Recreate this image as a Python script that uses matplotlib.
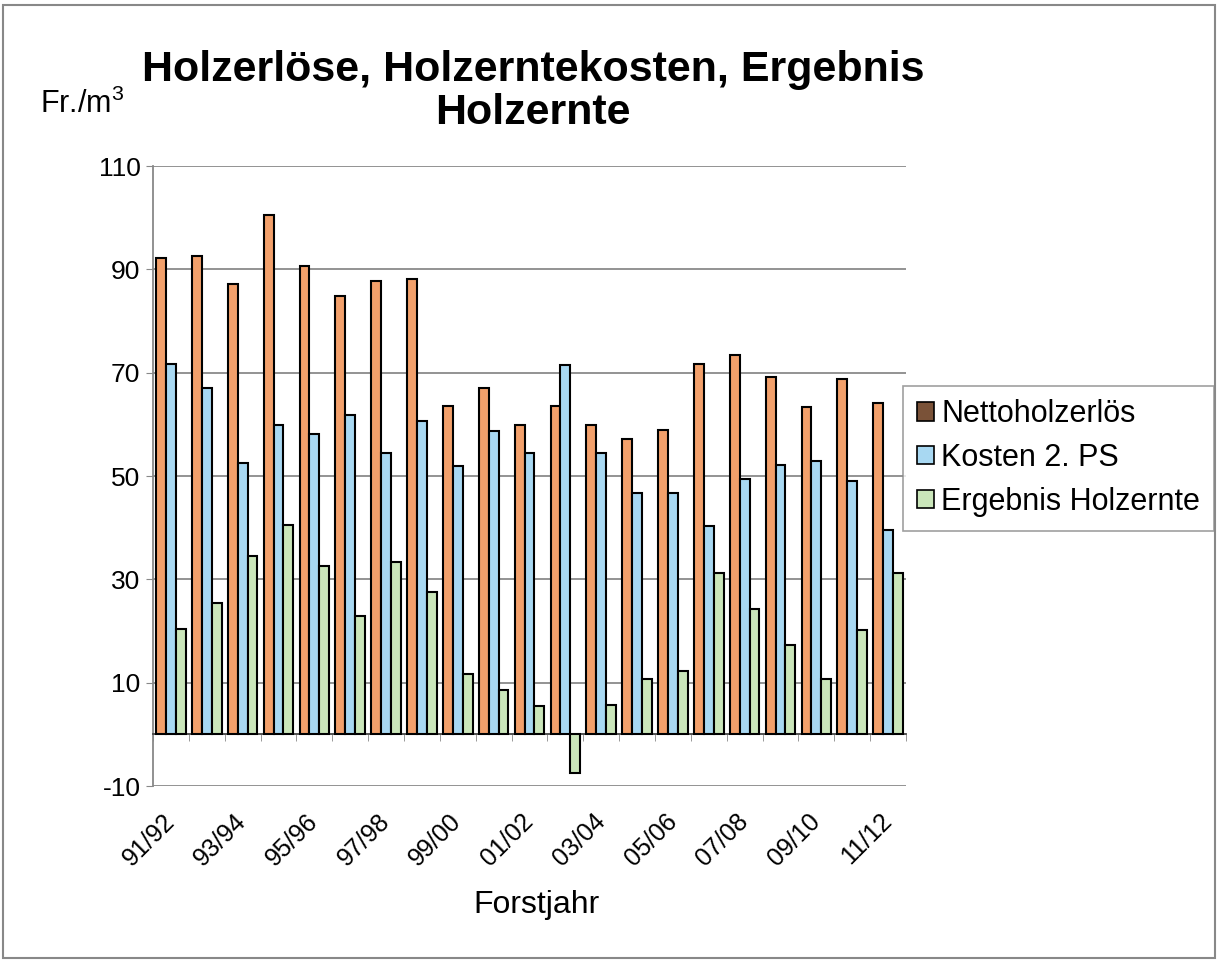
import matplotlib
matplotlib.use("Agg")
import matplotlib.pyplot as plt
import numpy as np
from matplotlib.patches import Patch, Rectangle

plt.rcParams['font.family'] = ['Liberation Sans', 'DejaVu Sans']
plt.rcParams['axes.unicode_minus'] = False

# Data
years = ["91/92", "92/93", "93/94", "94/95", "95/96", "96/97", "97/98", "98/99", "99/00", "00/01",
         "01/02", "02/03", "03/04", "04/05", "05/06", "06/07", "07/08", "08/09", "09/10", "10/11", "11/12"]
netto = [92.2, 92.5, 87.2, 100.6, 90.7, 84.8, 87.8, 88.2, 63.6, 67.1,
         59.8, 63.5, 59.8, 57.2, 58.9, 71.6, 73.5, 69.1, 63.3, 68.8, 64.1]
kosten = [71.7, 67.0, 52.6, 59.8, 58.1, 61.9, 54.5, 60.7, 52.0, 58.7,
          54.5, 71.4, 54.4, 46.7, 46.7, 40.4, 49.5, 52.2, 52.9, 49.0, 39.5]
ergebnis = [20.3, 25.5, 34.5, 40.6, 32.5, 22.9, 33.4, 27.5, 11.7, 8.5,
            5.4, -7.5, 5.6, 10.7, 12.3, 31.2, 24.2, 17.2, 10.7, 20.1, 31.3]
series_names = ["Nettoholzerlös", "Kosten 2. PS", "Ergebnis Holzernte"]
yticks = [-10, 10, 30, 50, 70, 90, 110]

colors = ["#F2A06B", "#A8D8F2", "#CAE6BA"]
legend_colors = ["#7A5238", "#A8D8F2", "#CAE6BA"]

fig = plt.figure(figsize=(12.24, 9.61), dpi=100)
ax = fig.add_axes([153/1224, 1-786/961, (906-153)/1224, (786-166)/961])

x = np.arange(len(years))
w = 0.275
for k, vals in enumerate([netto, kosten, ergebnis]):
    ax.bar(x + (k-1)*w, vals, width=w, color=colors[k], edgecolor="black",
           linewidth=1.5, zorder=3)

ax.set_xlim(-0.5, len(years)-0.5)
ax.set_ylim(-10, 110)
ax.set_yticks(yticks)
ax.tick_params(axis='y', labelsize=19, length=5, color="#888888", pad=4)
ax.yaxis.grid(True, color="#8a8a8a", linewidth=1.3, zorder=0)

# category axis crosses at 0
ax.spines['bottom'].set_position(('data', 0))
ax.spines['bottom'].set_color("#444444")
ax.spines['bottom'].set_linewidth(1.3)
ax.spines['left'].set_color("#888888")
ax.spines['left'].set_linewidth(1.3)
ax.spines['top'].set_visible(False)
ax.spines['right'].set_visible(False)

ax.set_xticks(x[::2])
ax.set_xticklabels(years[::2], rotation=45, ha='right', va='center', rotation_mode='anchor')
ax.set_xticks(np.arange(len(years)+1) - 0.5, minor=True)
ax.tick_params(axis='x', which='major', length=0, labelsize=18, pad=60)
ax.tick_params(axis='x', which='minor', length=5, color="#888888")

fig.text(0.4355, 0.905, "Holzerlöse, Holzerntekosten, Ergebnis\nHolzernte",
         ha='center', va='center', fontsize=31, fontweight='bold', linespacing=1.1)
fig.text(40/1224, 1-113/961, r"Fr./m$^\mathregular{3}$", fontsize=22, ha='left', va='baseline')
fig.text(537/1224, 1-905/961, "Forstjahr", fontsize=23, ha='center', va='center')

handles = [Patch(facecolor=c, edgecolor="black", linewidth=1.2) for c in legend_colors]
leg = fig.legend(handles, series_names, loc='center left',
                 bbox_to_anchor=(903/1224, 1-458/961), fontsize=22, borderaxespad=0,
                 frameon=True, fancybox=False, handlelength=0.55, handleheight=0.55,
                 handletextpad=0.25, labelspacing=0.45, borderpad=0.45)
leg.get_frame().set_edgecolor("#888888")
leg.get_frame().set_linewidth(1.2)

fig.patches.append(Rectangle((3/1224, 3/961), 1212/1224, 953/961, transform=fig.transFigure,
                             fill=False, edgecolor="#888888", linewidth=1.5))

fig.savefig("out.png", dpi=100)
